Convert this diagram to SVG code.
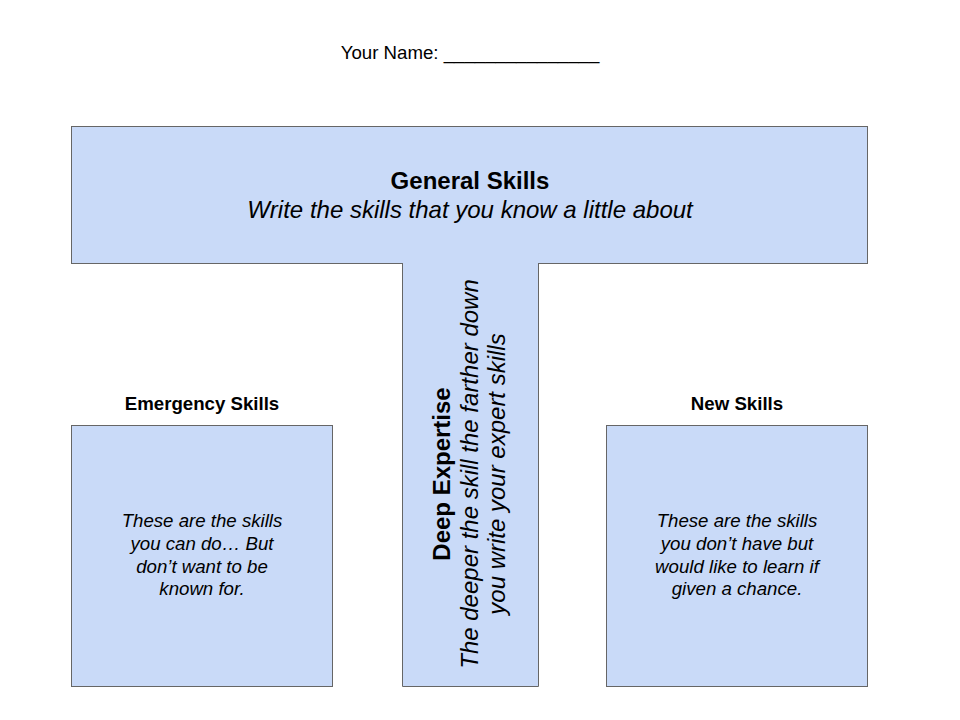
<svg xmlns="http://www.w3.org/2000/svg" width="960" height="720" viewBox="0 0 960 720">
<style>
text{font-family:"Liberation Sans",Arial,sans-serif;fill:#000;text-anchor:middle}
.b{font-weight:bold}
.i{font-style:italic}
.box{fill:#c9daf8;stroke:#666666;stroke-width:1}
</style>
<rect width="960" height="720" fill="#ffffff"/>
<g id="name">
<text x="470" y="59" font-size="18.67">Your Name: _______________</text>
</g>
<g id="general">
<rect class="box" x="71.5" y="126.5" width="796" height="137"/>
<text class="b" x="470" y="189" font-size="24">General Skills</text>
<text class="i" x="470" y="218" font-size="24">Write the skills that you know a little about</text>
</g>
<g id="deep">
<rect x="402" y="262" width="136" height="424" fill="#c9daf8"/>
<path d="M402.5 263 V686.5 H538.5 V263" fill="none" stroke="#666666" stroke-width="1"/>
<text class="b" transform="translate(450,474) rotate(-90)" font-size="24">Deep Expertise</text>
<text class="i" transform="translate(477.5,474) rotate(-90)" font-size="24">The deeper the skill the farther down</text>
<text class="i" transform="translate(505,474) rotate(-90)" font-size="24">you write your expert skills</text>
</g>
<g id="emergency">
<text class="b" x="202" y="410" font-size="18.67">Emergency Skills</text>
<rect class="box" x="71.5" y="425.5" width="261" height="261"/>
<text class="i" font-size="18.67"><tspan x="202" y="527">These are the skills</tspan><tspan x="202" y="550">you can do… But</tspan><tspan x="202" y="572.5">don’t want to be</tspan><tspan x="202" y="595">known for.</tspan></text>
</g>
<g id="new">
<text class="b" x="737" y="410" font-size="18.67">New Skills</text>
<rect class="box" x="606.5" y="425.5" width="261" height="261"/>
<text class="i" font-size="18.67"><tspan x="737" y="527">These are the skills</tspan><tspan x="737" y="550">you don’t have but</tspan><tspan x="737" y="572.5">would like to learn if</tspan><tspan x="737" y="595">given a chance.</tspan></text>
</g>
<g id="connectors"/>
</svg>
